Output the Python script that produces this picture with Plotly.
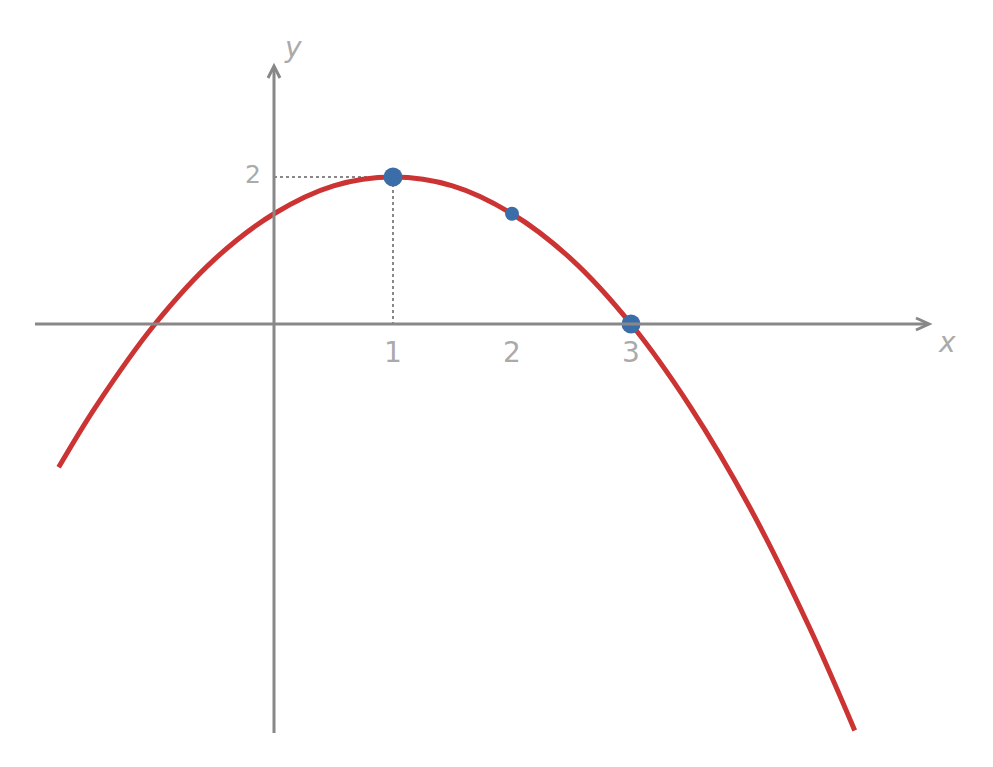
import plotly.graph_objects as go

# points
curve_x = [-1.81, -1.5, -1.0, -0.5, 0.0, 0.5, 1.0, 1.5, 2.0, 2.5, 3.0, 3.5, 4.0, 4.5, 4.88]
curve_y = [-1.95, -1.13, 0.0, 0.88, 1.5, 1.88, 2.0, 1.88, 1.5, 0.88, 0.0, -1.13, -2.5, -4.13, -5.53]

# marked points
big_x = [1, 3]
big_y = [2, 0]
small_x = [2]
small_y = [1.5]

tick_x = [1, 2, 3]
tick_labels = ['1', '2', '3']
ytick_val = [2]
ytick_labels = ['2']

axis_col = '#888888'
text_col = '#aaaaaa'

# pixel scale: x=0 at 274px, 119 px/unit; y=0 at 324px, 73.5 px/unit
# (page body has an 8px margin, so the plot starts 8px in)
W, H = 993, 767
off = 8
x0px, xu = 274 - off, 119.0
y0px, yu = 324 - off, 73.5


def px_x(p):
    return (p - off - x0px) / xu


def px_y(p):
    return (y0px - (p - off)) / yu


fig = go.Figure()

# dotted guides to the vertex
fig.add_trace(go.Scatter(x=[0, big_x[0], big_x[0]], y=[big_y[0], big_y[0], 0], mode='lines',
                         line=dict(color=axis_col, width=2, dash='dot'), hoverinfo='skip'))

fig.add_trace(go.Scatter(x=curve_x, y=curve_y, mode='lines', line_shape='spline',
                         line=dict(color='#cc3333', width=5)))

fig.add_trace(go.Scatter(x=big_x, y=big_y, mode='markers',
                         marker=dict(color='#3b6ea8', size=19)))
fig.add_trace(go.Scatter(x=small_x, y=small_y, mode='markers',
                         marker=dict(color='#3b6ea8', size=14)))

# tick labels
fig.add_trace(go.Scatter(x=tick_x, y=[px_y(355)] * 3, mode='text', text=tick_labels,
                         textfont=dict(size=28, color=text_col, family='DejaVu Sans')))
fig.add_trace(go.Scatter(x=[px_x(253)], y=[px_y(177)], mode='text', text=ytick_labels,
                         textfont=dict(size=25, color=text_col, family='DejaVu Sans')))

# axes with open arrowheads
shapes = [
    dict(type='line', x0=px_x(35), x1=px_x(928), y0=0, y1=0,
         line=dict(color=axis_col, width=3)),
    dict(type='line', x0=0, x1=0, y0=px_y(733), y1=px_y(67),
         line=dict(color=axis_col, width=3)),
    dict(type='path',
         path=f'M {px_x(916)},{px_y(318)} L {px_x(929)},0 L {px_x(916)},{px_y(330)}',
         line=dict(color=axis_col, width=3)),
    dict(type='path',
         path=f'M {px_x(268)},{px_y(78)} L 0,{px_y(66)} L {px_x(280)},{px_y(78)}',
         line=dict(color=axis_col, width=3)),
]

annotations = [
    dict(x=px_x(947), y=px_y(342), text='<i>x</i>', showarrow=False,
         font=dict(size=28, color=text_col, family='DejaVu Sans')),
    dict(x=px_x(293), y=px_y(47), text='<i>y</i>', showarrow=False,
         font=dict(size=28, color=text_col, family='DejaVu Sans')),
]

fig.update_layout(
    width=W - 2 * off, height=H - 2 * off,
    margin=dict(l=0, r=0, t=0, b=0),
    paper_bgcolor='white', plot_bgcolor='white',
    showlegend=False,
    shapes=shapes, annotations=annotations,
    xaxis=dict(range=[px_x(off), px_x(W - off)], visible=False),
    yaxis=dict(range=[px_y(H - off), px_y(off)], visible=False),
)

fig.write_html("out.html")
